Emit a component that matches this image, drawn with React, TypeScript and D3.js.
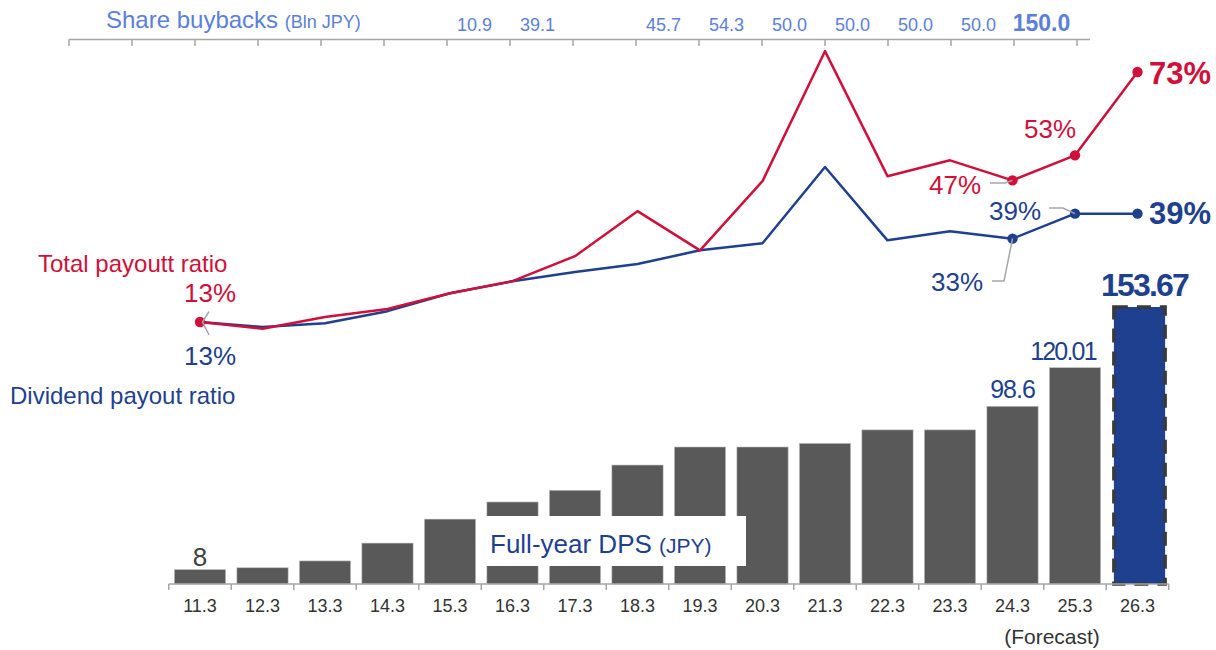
import React from "react";
import * as d3 from "d3";

const categories = ["11.3","12.3","13.3","14.3","15.3","16.3","17.3","18.3","19.3","20.3","21.3","22.3","23.3","24.3","25.3","26.3"];
const dps = [8, 9, 12.8, 22.7, 36, 45.5, 52, 66, 76, 76, 78, 85.5, 85.5, 98.6, 120.01, 153.67];
const totalPayout = [13, 11.4, 14.2, 16.1, 19.9, 22.8, 28.8, 39.6, 30.2, 46.8, 78, 48, 51.8, 47, 53, 73];
const dividendPayout = [13, 11.8, 12.7, 15.6, 19.9, 22.8, 25, 26.9, 30.2, 31.9, 50.2, 32.6, 34.8, 33, 39, 39];
const buybacks: (string | null)[] = [null, null, null, null, null, null, "10.9", "39.1", null, "45.7", "54.3", "50.0", "50.0", "50.0", "50.0", "150.0"];

const RED = "#D0103A";
const BLUE = "#1F3F8F";
const LBLUE = "#5B80DC";
const GRAY = "#A6A6A6";
const FONT = "Liberation Sans, Arial, sans-serif";

export default function App() {
  const W = 1216, H = 650;
  const x = d3.scaleBand<string>().domain(categories).range([168.75, 1168.75]).paddingInner(0.18).paddingOuter(0.09);
  const step = x.step();
  const cx = (c: string) => (x(c) as number) + x.bandwidth() / 2;
  const xTop = d3.scaleBand<string>().domain(categories).range([69, 1077]);
  const yBar = d3.scaleLinear().domain([0, 153.67]).range([584, 307]);
  const yLine = d3.scaleLinear().domain([13, 73]).range([322, 72]);

  const line = d3.line<number>().x((_, i) => cx(categories[i])).y((v) => yLine(v));
  const last = categories.length - 1;
  const bandStart = 168.75;

  const topTicks = d3.range(categories.length + 1).map((i) => 69 + i * xTop.step());
  const bottomTicks = d3.range(categories.length + 1).map((i) => bandStart + i * step);

  const markerIdx = [13, 14, 15];
  const i24 = categories.indexOf("24.3");
  const i25 = categories.indexOf("25.3");

  return (
    <svg width={W} height={H} style={{ position: "absolute", left: 0, top: 0, fontFamily: FONT }}>
      <rect width={W} height={H} fill="#fff" />
      {/* Top buyback axis */}
      <line x1={69} x2={1090} y1={39.5} y2={39.5} stroke={GRAY} strokeWidth={1.5} />
      {topTicks.map((t, i) => (
        <line key={i} x1={t} x2={t} y1={39.5} y2={46} stroke={GRAY} strokeWidth={1.5} />
      ))}
      <text x={106} y={28} fontSize={24} fill={LBLUE}>
        Share buybacks <tspan fontSize={18}>(Bln JPY)</tspan>
      </text>
      {buybacks.map((b, i) =>
        b ? (
          <text key={i} x={(xTop(categories[i]) as number) + xTop.bandwidth() / 2 - 4} y={31}
            textAnchor="middle" fontSize={b === "150.0" ? 23 : 18} fontWeight={b === "150.0" ? "bold" : "normal"} fill={LBLUE}>
            {b}
          </text>
        ) : null
      )}

      {/* Bars */}
      {dps.map((v, i) => {
        const isF = i === last;
        return (
          <rect key={i} x={(x(categories[i]) as number) + (isF ? 2 : 0)} y={yBar(v)} width={x.bandwidth()} height={584 - yBar(v)}
            fill={isF ? BLUE : "#595959"} stroke={isF ? "#3A3A3A" : "#BFBFBF"} strokeWidth={isF ? 3.5 : 0.6}
            strokeDasharray={isF ? "14,9" : undefined} />
        );
      })}
      {/* Bottom axis */}
      <line x1={bandStart} x2={bandStart + step * categories.length} y1={584} y2={584} stroke={GRAY} strokeWidth={1.5} />
      {bottomTicks.map((t, i) => (
        <line key={i} x1={t} x2={t} y1={584} y2={590} stroke={GRAY} strokeWidth={1.5} />
      ))}
      {categories.map((c) => (
        <text key={c} x={cx(c)} y={612} textAnchor="middle" fontSize={18} fill="#333">{c}</text>
      ))}
      <text x={1052} y={644} textAnchor="middle" fontSize={21} fill="#333">(Forecast)</text>

      {/* DPS label box */}
      <rect x={476} y={516} width={270} height={50} fill="#fff" />
      <text x={490} y={553} fontSize={26} fill={BLUE}>
        Full-year DPS <tspan fontSize={21}>(JPY)</tspan>
      </text>

      {/* Bar value labels */}
      <text x={cx("11.3")} y={566} textAnchor="middle" fontSize={26} fill="#404040">{dps[0]}</text>
      <text x={cx("24.3")} y={398} textAnchor="middle" fontSize={25} fill={BLUE} letterSpacing={-1}>{dps[13]}</text>
      <text x={cx("25.3") - 12} y={360} textAnchor="middle" fontSize={25} fill={BLUE} letterSpacing={-1.8}>{dps[14]}</text>
      <text x={cx("26.3") + 7} y={296} textAnchor="middle" fontSize={32} fontWeight="bold" fill={BLUE} letterSpacing={-1.8}>{dps[15]}</text>

      {/* Lines */}
      <path d={line(dividendPayout) as string} fill="none" stroke={BLUE} strokeWidth={2.5} strokeLinejoin="round" />
      <path d={line(totalPayout) as string} fill="none" stroke={RED} strokeWidth={2.5} strokeLinejoin="round" />
      {markerIdx.map((i) => (
        <circle key={"b" + i} cx={cx(categories[i])} cy={yLine(dividendPayout[i])} r={5.2} fill={BLUE} />
      ))}
      {[0, ...markerIdx].map((i) => (
        <circle key={"r" + i} cx={cx(categories[i])} cy={yLine(totalPayout[i])} r={5.2} fill={RED} />
      ))}

      {/* Leaders */}
      <polyline points={`209,311.5 202.5,322 209,335`} fill="none" stroke={GRAY} strokeWidth={1.5} />
      <polyline points={`990,183 1005,183 ${cx(categories[i24])},${yLine(totalPayout[i24])}`} fill="none" stroke={GRAY} strokeWidth={1.5} />
      <polyline points={`1049,208 1063,208 ${cx(categories[i25])},${yLine(dividendPayout[i25])}`} fill="none" stroke={GRAY} strokeWidth={1.5} />
      <polyline points={`992,281 1004,281 ${cx(categories[i24])},${yLine(dividendPayout[i24])}`} fill="none" stroke={GRAY} strokeWidth={1.5} />

      {/* Line labels */}
      <text x={38} y={272} fontSize={24} fill={RED}>Total payoutt ratio</text>
      <text x={10} y={404} fontSize={24} fill={BLUE}>Dividend payout ratio</text>
      <text x={210} y={302} textAnchor="middle" fontSize={26} fill={RED}>{totalPayout[0]}%</text>
      <text x={210} y={365} textAnchor="middle" fontSize={26} fill={BLUE}>{dividendPayout[0]}%</text>
      <text x={981} y={194} textAnchor="end" fontSize={26} fill={RED}>{totalPayout[13]}%</text>
      <text x={1050} y={138} textAnchor="middle" fontSize={26} fill={RED}>{totalPayout[14]}%</text>
      <text x={1041} y={220} textAnchor="end" fontSize={26} fill={BLUE}>{dividendPayout[14]}%</text>
      <text x={983} y={291} textAnchor="end" fontSize={26} fill={BLUE}>{dividendPayout[13]}%</text>
      <text x={1149} y={84} fontSize={31} fontWeight="bold" fill={RED}>{totalPayout[15]}%</text>
      <text x={1149} y={224} fontSize={31} fontWeight="bold" fill={BLUE}>{dividendPayout[15]}%</text>
    </svg>
  );
}
